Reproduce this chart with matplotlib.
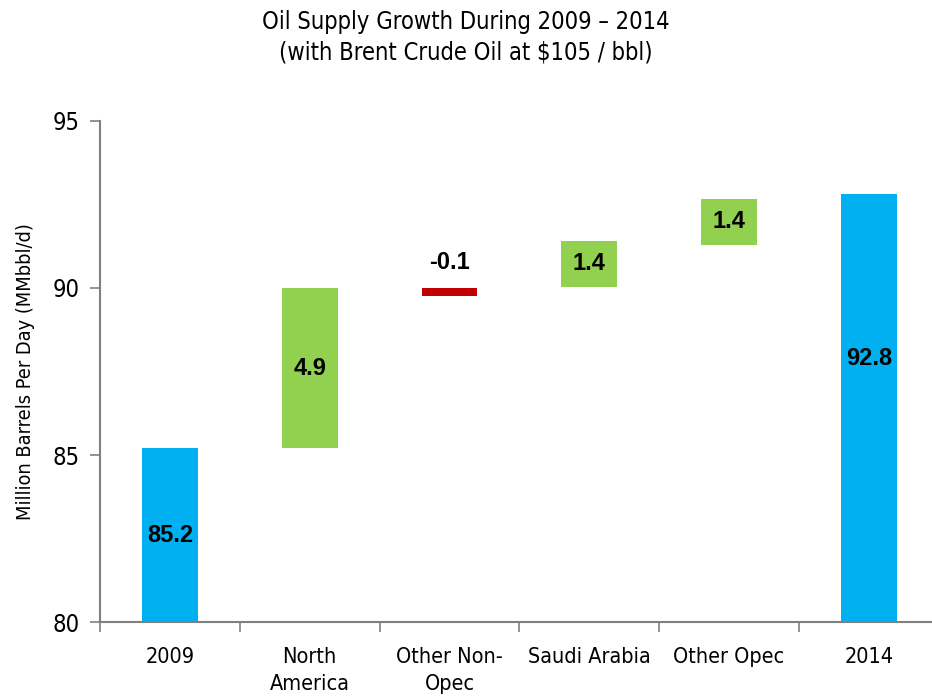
import matplotlib
matplotlib.use('Agg')
import matplotlib.pyplot as plt

# waterfall of oil supply (MMbbl/d)
categories = ['2009', 'North\nAmerica', 'Other Non-\nOpec', 'Saudi Arabia', 'Other Opec', '2014']
bar_bottoms = [80.0, 85.2, 89.77, 90.02, 91.3, 80.0]
bar_tops = [85.2, 90.0, 90.0, 91.42, 92.67, 92.8]
labels = ['85.2', '4.9', '-0.1', '1.4', '1.4', '92.8']
colors = ['#00B0F0', '#92D050', '#C00000', '#92D050', '#92D050', '#00B0F0']

narrow = dict(family='DejaVu Sans', stretch='condensed')

fig = plt.figure(figsize=(9.32, 6.99), dpi=100)
ax = fig.add_axes([0.1073, 0.110, 0.9, 0.717])

x = range(len(categories))
heights = [t - b for t, b in zip(bar_tops, bar_bottoms)]
ax.bar(x, heights, bottom=bar_bottoms, width=0.4, color=colors, zorder=2)

for i, lab in enumerate(labels):
    if lab.startswith('-'):
        y = bar_tops[i] + 0.75
    elif i == len(labels) - 1:
        y = 87.9
    else:
        y = (bar_bottoms[i] + bar_tops[i]) / 2
    ax.text(i, y, lab, ha='center', va='center', fontsize=17, fontweight='bold',
            family='Liberation Sans', color='black')

ax.set_xlim(-0.5, 5.5)
ax.set_ylim(80, 95)
ax.set_yticks([80, 85, 90, 95])
ax.set_xticks([i - 0.5 for i in range(6)], minor=True)
ax.set_xticks(list(x))
ax.set_xticklabels(categories, fontsize=15.5, linespacing=1.4, **narrow)
for t in ax.get_yticklabels():
    t.set_family(narrow['family'])
    t.set_stretch(narrow['stretch'])
    t.set_fontsize(17)

ax.tick_params(axis='x', which='major', length=0, pad=18)
ax.tick_params(axis='x', which='minor', length=7, color='#808080', width=1.2)
ax.tick_params(axis='y', length=7, color='#808080', width=1.2, pad=8)

for s in ['top', 'right']:
    ax.spines[s].set_visible(False)
for s in ['left', 'bottom']:
    ax.spines[s].set_color('#808080')
    ax.spines[s].set_linewidth(1.5)

ax.set_ylabel('Million Barrels Per Day (MMbbl/d)', fontsize=14.3, labelpad=12, **narrow)
fig.text(0.5, 0.968, 'Oil Supply Growth During 2009 \u2013 2014', ha='center', va='center',
         fontsize=17, **narrow)
fig.text(0.5, 0.925, '(with Brent Crude Oil at $105 / bbl)', ha='center', va='center',
         fontsize=17, **narrow)

plt.savefig('out.png', dpi=100)
